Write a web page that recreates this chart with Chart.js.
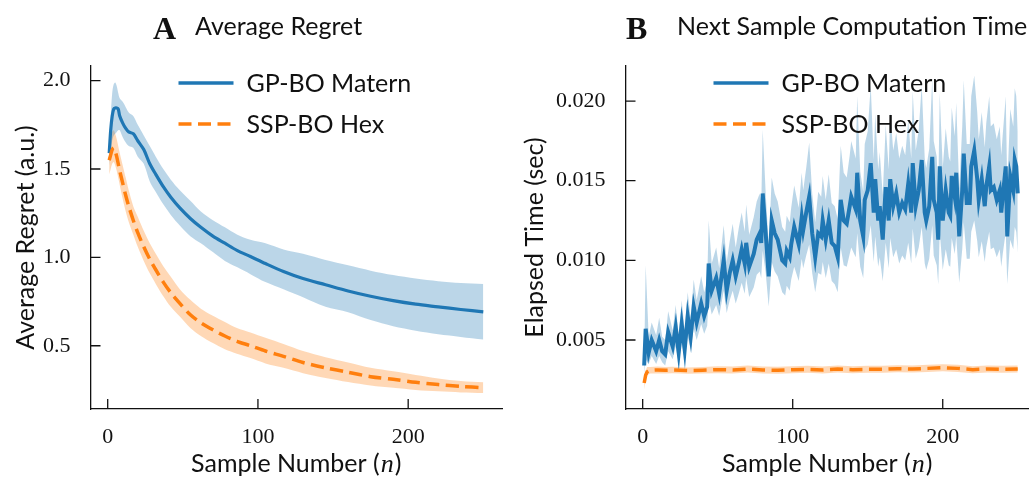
<!DOCTYPE html>
<html lang="en">
<head>
  <meta charset="UTF-8">
  <title>Regret and Computation Time</title>
  <script src="https://cdn.jsdelivr.net/npm/chart.js"></script>
  <style>
    body {
      margin: 0;
      background: #fff;
      width: 1029px;
      height: 479px;
      overflow: hidden;
      position: relative;
    }
    canvas {
      position: absolute;
      top: 0;
    }
    #regretChart { left: 0; }
    #timeChart { left: 520px; }
  </style>
</head>
<body>
  <canvas id="regretChart" width="520" height="479"></canvas>
  <canvas id="timeChart" width="509" height="479"></canvas>

  <script>
    // ---- Panel A: average regret ----
    const nA = [1, 2, 3, 4, 5, 6, 7, 8, 10, 12, 14, 17, 20, 24, 28, 32, 37, 42, 48, 55, 62, 70, 78, 86, 95, 105, 117, 130, 145, 160, 175, 190, 205, 220, 235, 250];
    const gpMeanA = [1.59, 1.72, 1.80, 1.84, 1.845, 1.845, 1.84, 1.80, 1.76, 1.73, 1.71, 1.70, 1.66, 1.61, 1.53, 1.47, 1.40, 1.34, 1.28, 1.22, 1.17, 1.12, 1.08, 1.04, 1.005, 0.965, 0.92, 0.88, 0.845, 0.81, 0.78, 0.755, 0.735, 0.72, 0.705, 0.692];
    const gpHiA = [1.64, 1.80, 1.93, 1.98, 1.99, 1.97, 1.93, 1.90, 1.88, 1.85, 1.82, 1.80, 1.75, 1.69, 1.63, 1.57, 1.50, 1.44, 1.38, 1.32, 1.26, 1.21, 1.17, 1.13, 1.10, 1.08, 1.045, 1.02, 0.985, 0.955, 0.925, 0.90, 0.88, 0.865, 0.855, 0.85];
    const gpLoA = [1.52, 1.60, 1.66, 1.69, 1.70, 1.71, 1.72, 1.72, 1.68, 1.65, 1.63, 1.62, 1.57, 1.53, 1.43, 1.37, 1.30, 1.24, 1.18, 1.12, 1.08, 1.03, 0.98, 0.945, 0.905, 0.86, 0.82, 0.775, 0.72, 0.69, 0.645, 0.61, 0.585, 0.565, 0.55, 0.535];
    const sspMeanA = [1.55, 1.58, 1.61, 1.62, 1.60, 1.57, 1.53, 1.49, 1.42, 1.35, 1.29, 1.21, 1.14, 1.06, 0.99, 0.93, 0.86, 0.80, 0.74, 0.675, 0.63, 0.59, 0.555, 0.525, 0.50, 0.47, 0.44, 0.405, 0.375, 0.35, 0.325, 0.31, 0.293, 0.28, 0.27, 0.262];
    const sspHiA = [1.63, 1.67, 1.71, 1.72, 1.70, 1.67, 1.63, 1.59, 1.52, 1.45, 1.38, 1.29, 1.23, 1.15, 1.08, 1.02, 0.95, 0.89, 0.82, 0.76, 0.71, 0.67, 0.635, 0.60, 0.575, 0.545, 0.51, 0.47, 0.435, 0.405, 0.375, 0.355, 0.335, 0.315, 0.30, 0.293];
    const sspLoA = [1.47, 1.50, 1.53, 1.54, 1.52, 1.49, 1.45, 1.41, 1.33, 1.26, 1.20, 1.13, 1.06, 0.98, 0.91, 0.85, 0.78, 0.72, 0.665, 0.60, 0.555, 0.515, 0.48, 0.455, 0.43, 0.40, 0.375, 0.345, 0.318, 0.295, 0.275, 0.262, 0.25, 0.242, 0.236, 0.232];

    // ---- Panel B: time to compute the next sample ----
    const nB = [1, 2, 4, 6, 9, 11, 13, 15, 17, 20, 22, 24, 26, 28, 30, 32, 34, 36, 39, 41, 43, 44, 46, 49, 51, 54, 56, 58, 60, 62, 64, 66, 68, 69, 71, 74, 76, 78, 79, 80, 82, 84, 85, 86, 88, 90, 93, 95, 96, 98, 99, 101, 104, 106, 107, 109, 111, 113, 115, 117, 119, 120, 122, 124, 126, 128, 130, 132, 134, 136, 138, 139, 142, 143, 145, 147, 148, 150, 152, 154, 155, 157, 158, 160, 162, 164, 165, 167, 169, 171, 173, 175, 177, 179, 180, 182, 184, 186, 188, 189, 191, 193, 194, 196, 197, 198, 200, 202, 204, 205, 206, 208, 209, 211, 213, 214, 216, 218, 219, 221, 223, 224, 226, 228, 229, 231, 232, 234, 236, 238, 239, 240, 242, 243, 245, 247, 248, 249, 250];
    const gpMeanB = [.0034, .0057, .0042, .0050, .0043, .0050, .0043, .0041, .0055, .0046, .0058, .0042, .0060, .0044, .0065, .0052, .0071, .0061, .0073, .0065, .0071, .0098, .0081, .0089, .0079, .0100, .0081, .0092, .0100, .0090, .0098, .0107, .0098, .0111, .0096, .0104, .0113, .0117, .0111, .0142, .0117, .0090, .0106, .0125, .0117, .0113, .0100, .0098, .0106, .0102, .0110, .0121, .0110, .0127, .0119, .0130, .0140, .0117, .0102, .0117, .0115, .0125, .0113, .0125, .0111, .0109, .0102, .0138, .0125, .0123, .0134, .0140, .0132, .0155, .0125, .0115, .0138, .0144, .0161, .0130, .0151, .0125, .0134, .0113, .0146, .0125, .0151, .0134, .0142, .0130, .0136, .0132, .0148, .0130, .0161, .0134, .0144, .0163, .0130, .0125, .0134, .0165, .0138, .0130, .0113, .0159, .0125, .0144, .0130, .0128, .0153, .0140, .0155, .0115, .0144, .0167, .0136, .0136, .0159, .0169, .0151, .0138, .0151, .0134, .0146, .0159, .0144, .0146, .0138, .0144, .0130, .0140, .0159, .0115, .0153, .0144, .0163, .0159, .0142];
    const gpHiB = [.0040, .0097, .0052, .0061, .0053, .0064, .0052, .0050, .0068, .0056, .0072, .0053, .0075, .0056, .0080, .0064, .0088, .0075, .0090, .0080, .0087, .0125, .0098, .0108, .0095, .0122, .0099, .0112, .0123, .0108, .0120, .0130, .0118, .0135, .0116, .0127, .0137, .0142, .0133, .0182, .0142, .0110, .0130, .0152, .0142, .0137, .0121, .0118, .0128, .0124, .0133, .0147, .0133, .0155, .0144, .0158, .0174, .0142, .0124, .0143, .0140, .0153, .0138, .0154, .0136, .0134, .0126, .0172, .0155, .0152, .0166, .0175, .0164, .0203, .0156, .0143, .0173, .0181, .0210, .0163, .0192, .0157, .0168, .0141, .0185, .0157, .0193, .0169, .0180, .0164, .0172, .0166, .0188, .0164, .0206, .0169, .0182, .0210, .0164, .0158, .0170, .0214, .0175, .0165, .0142, .0205, .0158, .0183, .0165, .0162, .0196, .0178, .0199, .0145, .0184, .0213, .0173, .0173, .0203, .0216, .0193, .0176, .0193, .0171, .0186, .0203, .0184, .0186, .0176, .0184, .0166, .0179, .0203, .0146, .0195, .0184, .0208, .0203, .0181];
    const gpLoB = [.0029, .0038, .0035, .0040, .0035, .0040, .0036, .0034, .0043, .0038, .0046, .0036, .0048, .0038, .0052, .0044, .0057, .0050, .0060, .0054, .0059, .0076, .0066, .0072, .0065, .0081, .0067, .0075, .0081, .0073, .0079, .0086, .0079, .0089, .0077, .0083, .0091, .0093, .0089, .0106, .0092, .0071, .0084, .0099, .0093, .0090, .0080, .0078, .0084, .0081, .0088, .0096, .0087, .0101, .0095, .0103, .0110, .0092, .0080, .0092, .0091, .0099, .0089, .0098, .0087, .0085, .0080, .0108, .0097, .0096, .0104, .0108, .0102, .0117, .0096, .0089, .0106, .0110, .0122, .0099, .0115, .0096, .0102, .0087, .0111, .0095, .0114, .0102, .0107, .0098, .0103, .0100, .0111, .0098, .0120, .0101, .0108, .0121, .0098, .0094, .0101, .0122, .0103, .0097, .0085, .0118, .0094, .0107, .0097, .0096, .0114, .0104, .0115, .0086, .0107, .0124, .0101, .0101, .0118, .0125, .0112, .0102, .0112, .0099, .0108, .0118, .0107, .0108, .0102, .0107, .0096, .0104, .0118, .0085, .0113, .0107, .0121, .0118, .0105];

    const sspNB = [1, 2, 3, 5, 10, 15, 20, 30, 40, 50, 60, 70, 80, 90, 100, 110, 120, 130, 140, 150, 160, 170, 180, 190, 200, 210, 220, 230, 240, 250];
    const sspMeanB = [.0023, .0028, .0030, .0031, .00312, .00310, .00312, .00308, .00310, .00314, .00312, .00318, .00312, .00310, .00314, .00316, .00312, .00318, .00314, .00316, .00316, .00320, .00318, .00322, .00326, .00322, .00314, .00318, .00316, .00318];
    const sspHiB = [.0027, .0031, .0033, .0033, .00334, .00330, .00332, .00328, .00330, .00336, .00334, .00340, .00334, .00332, .00336, .00338, .00334, .00340, .00336, .00338, .00338, .00342, .00340, .00344, .00348, .00344, .00336, .00340, .00338, .00340];
    const sspLoB = [.0019, .0025, .0028, .0029, .00290, .00290, .00292, .00288, .00290, .00292, .00290, .00296, .00290, .00288, .00292, .00294, .00290, .00296, .00292, .00294, .00294, .00298, .00296, .00300, .00304, .00300, .00292, .00296, .00294, .00296];

    const xTicks = [0, 100, 200];
    const yTicksA = [0.5, 1.0, 1.5, 2.0];
    const yTicksB = [0.005, 0.010, 0.015, 0.020];

    const BLUE = '#1f77b4';
    const ORANGE = '#ff7f0e';
    const INK = '#111';
    const SANS = 'Lato, "Open Sans", sans-serif';
    const SERIF = '"Liberation Serif", "DejaVu Serif", serif';
    const TEXT_SIZE = 25;

    const pts = (xs, ys) => xs.map((x, i) => ({ x: x, y: ys[i] }));

    // Panel letter, heading, and the x-axis caption with an italic n
    const panelText = {
      id: 'panelText',
      afterDraw(chart, args, opts) {
        const ctx = chart.ctx;
        const area = chart.chartArea;
        ctx.save();
        ctx.fillStyle = INK;
        ctx.textBaseline = 'alphabetic';
        ctx.font = 'bold 32px ' + SERIF;
        ctx.fillText(opts.letter, opts.letterX, 39);
        ctx.font = TEXT_SIZE + 'px ' + SANS;
        ctx.fillText(opts.text, opts.textX, 35);

        const head = 'Sample Number (';
        const tail = ')';
        const sansFont = TEXT_SIZE + 'px ' + SANS;
        const italFont = 'italic ' + (TEXT_SIZE + 1) + 'px ' + SERIF;
        ctx.font = sansFont;
        const wHead = ctx.measureText(head).width;
        const wTail = ctx.measureText(tail).width;
        ctx.font = italFont;
        const wN = ctx.measureText('n').width + 2;
        let x = (area.left + area.right) / 2 - (wHead + wN + wTail) / 2;
        const y = 472;
        ctx.font = sansFont;
        ctx.fillText(head, x, y);
        x += wHead;
        ctx.font = italFont;
        ctx.fillText('n', x + 1, y);
        x += wN;
        ctx.font = sansFont;
        ctx.fillText(tail, x, y);
        ctx.restore();
      }
    };

    // Inward tick marks on both axes
    const innerTicks = {
      id: 'innerTicks',
      afterDraw(chart) {
        const ctx = chart.ctx;
        const area = chart.chartArea;
        ctx.save();
        ctx.strokeStyle = INK;
        ctx.lineWidth = 1.3;
        ctx.beginPath();
        chart.scales.x.ticks.forEach(t => {
          const px = chart.scales.x.getPixelForValue(t.value);
          ctx.moveTo(px, area.bottom);
          ctx.lineTo(px, area.bottom - 10);
        });
        chart.scales.y.ticks.forEach(t => {
          const py = chart.scales.y.getPixelForValue(t.value);
          ctx.moveTo(area.left, py);
          ctx.lineTo(area.left + 10, py);
        });
        ctx.stroke();
        ctx.restore();
      }
    };

    // Legend drawn inside the plot area, upper part
    const innerLegend = {
      id: 'innerLegend',
      afterDraw(chart) {
        const ctx = chart.ctx;
        const area = chart.chartArea;
        const items = chart.data.datasets.filter(d => d.label).sort((a, b) => a.legendRank - b.legendRank);
        ctx.save();
        items.forEach((d, i) => {
          const y = area.top + 17 + i * 41;
          const x0 = area.left + 88;
          ctx.strokeStyle = d.borderColor;
          ctx.lineWidth = 3.5;
          ctx.setLineDash(d.borderDash || []);
          ctx.beginPath();
          ctx.moveTo(x0, y);
          ctx.lineTo(x0 + 55, y);
          ctx.stroke();
          ctx.setLineDash([]);
          ctx.fillStyle = INK;
          ctx.font = TEXT_SIZE + 'px ' + SANS;
          ctx.textBaseline = 'middle';
          ctx.fillText(d.label, x0 + 68, y + 1);
        });
        ctx.restore();
      }
    };

    function bandSets(xs, hi, lo, color, fillIdx) {
      return [
        { label: '', data: pts(xs, hi), borderWidth: 0, pointRadius: 0, backgroundColor: color, fill: fillIdx, order: 5 },
        { label: '', data: pts(xs, lo), borderWidth: 0, pointRadius: 0, backgroundColor: color, fill: false, order: 5 }
      ];
    }

    function makeChart(id, cfg) {
      return new Chart(document.getElementById(id), {
        type: 'line',
        data: { datasets: cfg.datasets },
        plugins: [panelText, innerTicks, innerLegend],
        options: {
          responsive: false,
          animation: false,
          devicePixelRatio: 1,
          layout: { padding: cfg.padding },
          elements: { line: { tension: cfg.tension } },
          plugins: {
            legend: { display: false },
            tooltip: { enabled: false },
            filler: { drawTime: 'beforeDatasetsDraw' },
            panelText: cfg.title
          },
          scales: {
            x: {
              type: 'linear',
              min: cfg.xMin,
              max: cfg.xMax,
              afterFit: s => { s.height = 70; },
              afterBuildTicks: s => { s.ticks = xTicks.map(v => ({ value: v })); },
              grid: { display: false },
              border: { display: true, color: INK, width: 1.3 },
              ticks: { color: INK, padding: 7, font: { family: SERIF, size: 22 }, callback: v => String(v) }
            },
            y: {
              min: cfg.yMin,
              max: cfg.yMax,
              afterFit: s => { s.width = cfg.yWidth; },
              afterBuildTicks: s => { s.ticks = cfg.yTicks.map(v => ({ value: v })); },
              grid: { display: false },
              border: { display: true, color: INK, width: 1.3 },
              ticks: { color: INK, padding: 12, font: { family: SERIF, size: 22 }, callback: cfg.yFormat },
              title: { display: true, text: cfg.yTitle, color: INK, font: { family: SANS, size: TEXT_SIZE }, padding: { top: cfg.yTitlePad, bottom: 0 } }
            }
          }
        }
      });
    }

    makeChart('regretChart', {
      padding: { top: 66, right: 18, bottom: 0, left: 0 },
      tension: 0.3,
      xMin: -11.45, xMax: 262.45,
      yMin: 0.142, yMax: 2.083,
      yWidth: 90.5,
      yTicks: yTicksA,
      yFormat: v => v.toFixed(1),
      yTitle: 'Average Regret (a.u.)',
      yTitlePad: 11,
      title: { letter: 'A', letterX: 153, text: 'Average Regret', textX: 195 },
      datasets: [
        { label: 'SSP-BO Hex', legendRank: 1, data: pts(nA, sspMeanA), borderColor: ORANGE, borderWidth: 3.5, borderDash: [13, 6.5], pointRadius: 0, fill: false, order: 0 },
        { label: 'GP-BO Matern', legendRank: 0, data: pts(nA, gpMeanA), borderColor: BLUE, borderWidth: 3.2, pointRadius: 0, fill: false, order: 1 },
        ...bandSets(nA, gpHiA, gpLoA, 'rgba(31,119,180,0.3)', 3),
        ...bandSets(nA, sspHiA, sspLoA, 'rgba(255,127,14,0.3)', 5)
      ]
    });

    makeChart('timeChart', {
      padding: { top: 66, right: 0, bottom: 0, left: 0 },
      tension: 0,
      xMin: -11.45, xMax: 257.5,
      yMin: 0.00067, yMax: 0.0222,
      yWidth: 105.5,
      yTicks: yTicksB,
      yFormat: v => v.toFixed(3),
      yTitle: 'Elapsed Time (sec)',
      yTitlePad: 0,
      title: { letter: 'B', letterX: 106, text: 'Next Sample Computation Time', textX: 157 },
      datasets: [
        { label: 'SSP-BO Hex', legendRank: 1, data: pts(sspNB, sspMeanB), borderColor: ORANGE, borderWidth: 3.5, borderDash: [13, 6.5], pointRadius: 0, fill: false, order: 0 },
        { label: 'GP-BO Matern', legendRank: 0, data: pts(nB, gpMeanB), borderColor: BLUE, borderWidth: 4, pointRadius: 0, fill: false, order: 1 },
        ...bandSets(nB, gpHiB, gpLoB, 'rgba(31,119,180,0.3)', 3),
        ...bandSets(sspNB, sspHiB, sspLoB, 'rgba(255,127,14,0.3)', 5)
      ]
    });
  </script>
</body>
</html>
